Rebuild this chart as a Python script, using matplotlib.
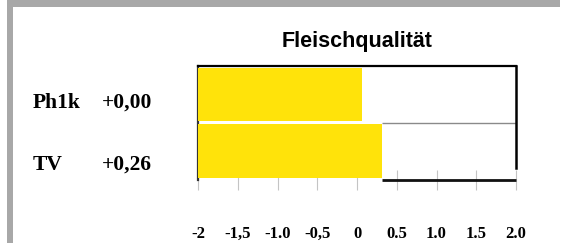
import numpy as np
import matplotlib.pyplot as plt
from matplotlib.patches import Rectangle

# Daten
kategorien = ["Ph1k", "TV"]
werte_text = ["+0,00", "+0,26"]
balken_ende = [0.06, 0.31]   # wo die Balken im Bild enden
ticks = [-2, -1.5, -1.0, -0.5, 0, 0.5, 1.0, 1.5, 2.0]
tick_labels = ["-2", "-1,5", "-1.0", "-0,5", "0", "0.5", "1.0", "1.5", "2.0"]
titel = "Fleischqualität"

W, H = 565, 243
fig = plt.figure(figsize=(W / 100, H / 100), dpi=100)
fig.patch.set_facecolor("white")

# grauer Rahmen (Scan)
fig.patches.append(Rectangle((7 / W, 1 - 7 / H), 553 / W, 7 / H, transform=fig.transFigure,
                             facecolor="#a8a8a8", edgecolor="none"))
fig.patches.append(Rectangle((7 / W, 0), 6 / W, 1, transform=fig.transFigure,
                             facecolor="#a8a8a8", edgecolor="none"))

ax = fig.add_axes([198 / W, 1 - 180 / H, (516 - 198) / W, (180 - 66) / H])
ypos = np.arange(len(kategorien))[::-1]
links = -2
ax.barh(ypos, np.array(balken_ende) - links, left=links, height=0.94,
        color="#ffe30a", edgecolor="none", zorder=3)

ax.set_xlim(-2, 2)
ax.set_ylim(-0.51, 1.5)

# Linie zwischen den Balken und untere Linie rechts vom Balken
ax.hlines(0.5, max(balken_ende), 2, color="#8a8a8a", lw=1.0, zorder=2)
ax.hlines(-0.51, balken_ende[1], 2, color="#111111", lw=2.0, zorder=2, clip_on=False)

ax.spines["bottom"].set_visible(False)
ax.spines["top"].set_linewidth(1.6)
ax.spines["left"].set_linewidth(1.6)
ax.spines["left"].set_color("#333333")
ax.spines["right"].set_linewidth(1.8)
ax.spines["right"].set_bounds(-0.3, 1.5)

ax.set_yticks([])
ax.set_xticks(ticks)
ax.set_xticklabels(tick_labels, fontfamily="Liberation Serif", fontweight="bold", fontsize=12)
ax.tick_params(axis="x", direction="inout", length=14, width=0.8, color="#c4c4c4", pad=26)

ax.set_title(titel, fontfamily="Liberation Sans", fontweight="bold", fontsize=15.5, pad=14)

ylabels = [103, 165]
for name, wert, yy in zip(kategorien, werte_text, ylabels):
    fig.text(33 / W, 1 - yy / H, name, fontfamily="Liberation Serif", fontweight="bold",
             fontsize=15.5, va="center", ha="left")
    fig.text(102 / W, 1 - yy / H, wert, fontfamily="Liberation Serif", fontweight="bold",
             fontsize=15.5, va="center", ha="left")

fig.savefig("out.png", dpi=100)
